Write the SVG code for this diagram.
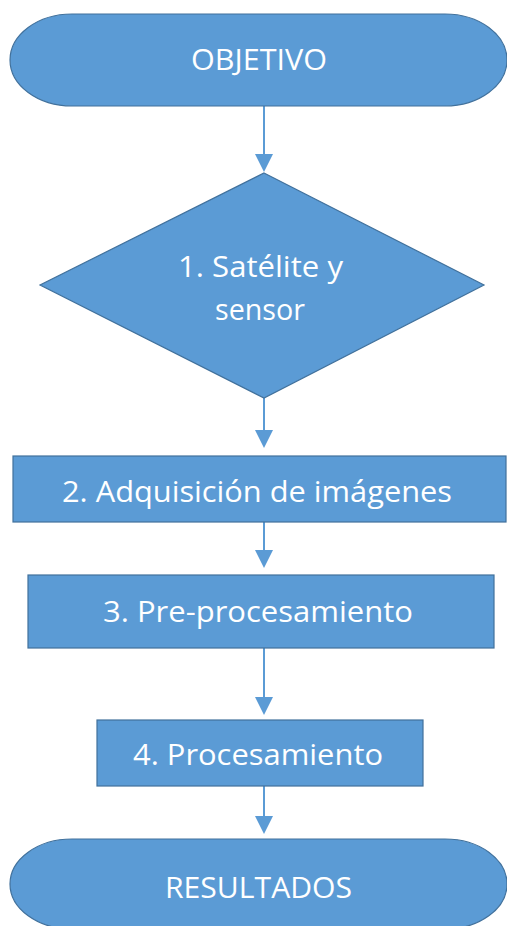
<svg xmlns="http://www.w3.org/2000/svg" width="507" height="926" viewBox="0 0 507 926">
<style>
.shape{fill:#5B9BD5;stroke:#41719C;stroke-width:1.2}
.lbl{fill:#FFFFFF;font-family:"Open Sans","Liberation Sans",sans-serif;font-size:29px;text-anchor:middle}
.conn{stroke:#5B9BD5;stroke-width:2;fill:none}
.head{fill:#5B9BD5}
</style>
<rect width="507" height="926" fill="#FFFFFF"/>
<g id="connectors">
<line class="conn" x1="264" y1="106" x2="264" y2="160"/>
<polygon class="head" points="255,154 273,154 264,172"/>
<line class="conn" x1="264" y1="398" x2="264" y2="436"/>
<polygon class="head" points="255,430 273,430 264,448"/>
<line class="conn" x1="264" y1="522" x2="264" y2="556"/>
<polygon class="head" points="255,550 273,550 264,568"/>
<line class="conn" x1="264" y1="648" x2="264" y2="703"/>
<polygon class="head" points="255,697 273,697 264,715"/>
<line class="conn" x1="264" y1="786" x2="264" y2="822"/>
<polygon class="head" points="255,816 273,816 264,834"/>
</g>
<g id="objetivo">
<path class="shape" d="M72,14 H445 A62,46 0 0 1 445,106 H72 A62,46 0 0 1 72,14 Z"/>
<text class="lbl" x="259" y="70" textLength="136" lengthAdjust="spacingAndGlyphs">OBJETIVO</text>
</g>
<g id="satelite">
<polygon class="shape" points="264,173 484,285 264,398 40,285"/>
<text class="lbl" x="260.5" y="277" textLength="165" lengthAdjust="spacingAndGlyphs">1. Satélite y</text>
<text class="lbl" x="260" y="320" textLength="90" lengthAdjust="spacingAndGlyphs">sensor</text>
</g>
<g id="adquisicion">
<rect class="shape" x="13" y="456" width="493" height="66"/>
<text class="lbl" x="257" y="502" textLength="390" lengthAdjust="spacingAndGlyphs">2. Adquisición de imágenes</text>
</g>
<g id="preprocesamiento">
<rect class="shape" x="28" y="575" width="466" height="73"/>
<text class="lbl" x="258" y="622" textLength="310" lengthAdjust="spacingAndGlyphs">3. Pre-procesamiento</text>
</g>
<g id="procesamiento">
<rect class="shape" x="97" y="720" width="326" height="66"/>
<text class="lbl" x="258" y="765" textLength="250" lengthAdjust="spacingAndGlyphs">4. Procesamiento</text>
</g>
<g id="resultados">
<path class="shape" d="M72,839 H445 A62,45 0 0 1 445,929 H72 A62,45 0 0 1 72,839 Z"/>
<text class="lbl" x="258.5" y="898" textLength="187" lengthAdjust="spacingAndGlyphs">RESULTADOS</text>
</g>
</svg>
